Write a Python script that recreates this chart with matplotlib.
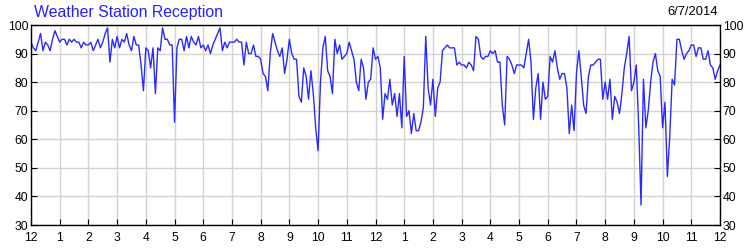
import numpy as np
import matplotlib.pyplot as plt

plt.rcParams['font.family'] = ['Liberation Sans', 'DejaVu Sans']

# reception (%) read every 5 minutes, one list per hour starting at midnight
hour_00 = [94, 92, 91, 94, 97, 91, 94, 93, 91, 95, 98, 96]
hour_01 = [94, 95, 95, 93, 95, 94, 95, 94, 94, 92, 94, 93]
hour_02 = [93, 94, 91, 93, 95, 92, 94, 97, 99, 87, 95, 92]
hour_03 = [96, 92, 95, 94, 97, 93, 91, 96, 93, 93, 86, 77]
hour_04 = [92, 91, 85, 92, 76, 92, 91, 99, 95, 95, 93, 93]
hour_05 = [66, 92, 95, 95, 91, 96, 92, 96, 94, 93, 96, 92]
hour_06 = [93, 91, 93, 90, 93, 95, 97, 99, 91, 94, 92, 94]
hour_07 = [94, 94, 95, 94, 94, 86, 94, 90, 90, 93, 89, 89]
hour_08 = [88, 83, 82, 77, 90, 97, 94, 91, 89, 92, 83, 88]
hour_09 = [95, 90, 88, 88, 75, 73, 85, 82, 74, 84, 76, 64]
hour_10 = [56, 80, 92, 96, 84, 82, 76, 95, 90, 93, 88, 89]
hour_11 = [90, 94, 91, 88, 80, 77, 88, 85, 74, 80, 81, 92]
hour_12 = [88, 89, 85, 67, 76, 74, 81, 72, 76, 68, 76, 64]
hour_13 = [89, 68, 70, 62, 69, 63, 63, 66, 71, 96, 78, 72]
hour_14 = [81, 68, 78, 80, 91, 92, 93, 92, 92, 92, 86, 87]
hour_15 = [86, 86, 85, 87, 86, 84, 96, 95, 89, 88, 89, 89]
hour_16 = [91, 90, 91, 87, 87, 72, 65, 89, 88, 86, 83, 86]
hour_17 = [86, 86, 85, 90, 95, 87, 67, 78, 83, 67, 80, 74]
hour_18 = [75, 89, 87, 91, 85, 81, 83, 83, 78, 62, 72, 63]
hour_19 = [83, 91, 82, 72, 69, 82, 86, 86, 87, 88, 88, 74]
hour_20 = [80, 74, 81, 67, 75, 73, 69, 76, 85, 90, 96, 77]
hour_21 = [80, 86, 65, 37, 81, 64, 70, 80, 87, 90, 84, 82]
hour_22 = [64, 73, 47, 61, 81, 79, 95, 95, 91, 88, 90, 91]
hour_23 = [93, 93, 89, 92, 92, 88, 88, 91, 86, 85, 81, 84]
last_reading = [86]

hours = [hour_00, hour_01, hour_02, hour_03, hour_04, hour_05,
         hour_06, hour_07, hour_08, hour_09, hour_10, hour_11,
         hour_12, hour_13, hour_14, hour_15, hour_16, hour_17,
         hour_18, hour_19, hour_20, hour_21, hour_22, hour_23, last_reading]

tick_labels = ['12', '1', '2', '3', '4', '5', '6', '7', '8', '9', '10', '11',
               '12', '1', '2', '3', '4', '5', '6', '7', '8', '9', '10', '11', '12']
y_ticks = [30, 40, 50, 60, 70, 80, 90, 100]

values = np.concatenate(hours)
t = np.arange(len(values)) / 12.0   # 5-minute steps, in hours

fig = plt.figure(figsize=(7.5, 2.5), dpi=100)
ax = fig.add_axes([31 / 750, 25 / 250, 689 / 750, 200 / 250])

ax.plot(t, values, color='#2a2aff', lw=1.0)

ax.set_xlim(0, 24)
ax.set_ylim(30, 100)
ax.set_xticks(range(25))
ax.set_xticklabels(tick_labels)
ax.set_yticks(y_ticks)
ax.grid(True, color='#d3d3d3', lw=1)
ax.set_axisbelow(True)
ax.tick_params(direction='in', length=4, labelsize=8.7, colors='black',
               right=True, labelright=True)
ax.tick_params(axis='x', pad=5)
ax.tick_params(axis='y', pad=2)
for s in ax.spines.values():
    s.set_color('black')
    s.set_linewidth(1)

fig.text(34 / 750, 1 - 12 / 250, 'Weather Station Reception', color='#2222ff',
         fontsize=11.4, va='center', ha='left')
fig.text(718 / 750, 1 - 12 / 250, '6/7/2014', color='black',
         fontsize=9.3, va='center', ha='right')

fig.savefig('out.png', dpi=100)
